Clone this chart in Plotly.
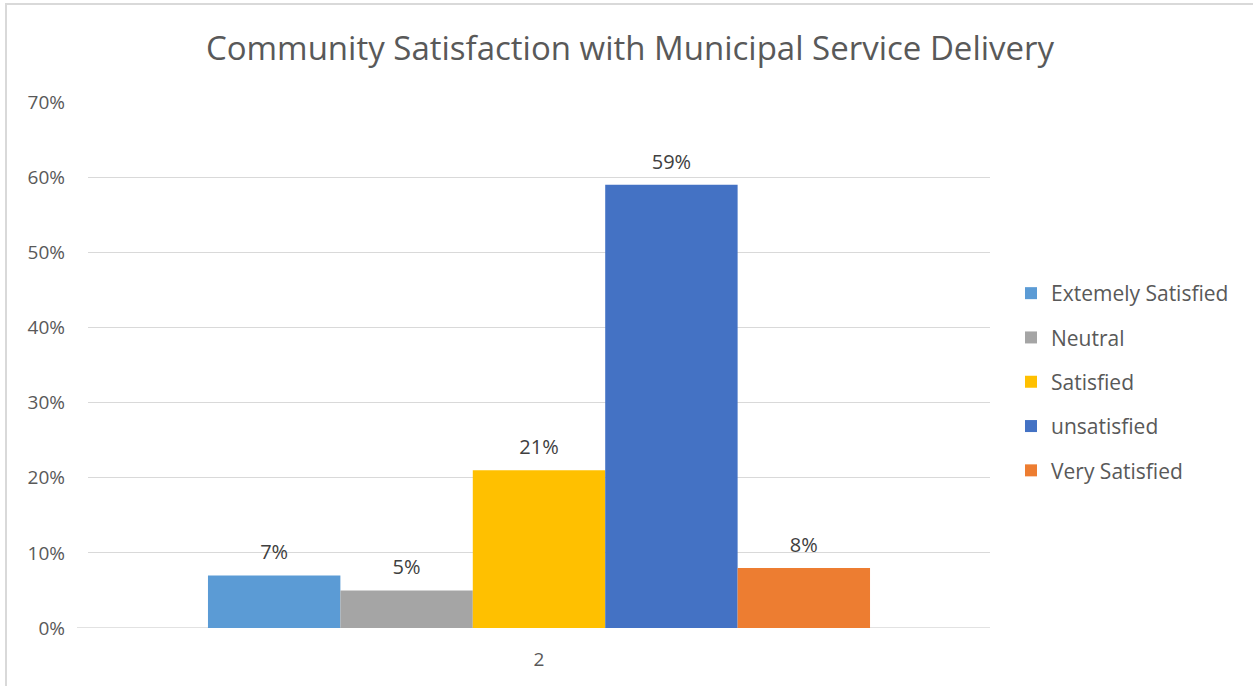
import plotly.graph_objects as go

# Survey results: share of respondents per satisfaction level
category = ["2"]
levels = ["Extemely Satisfied", "Neutral", "Satisfied", "unsatisfied", "Very Satisfied"]
shares = [0.07, 0.05, 0.21, 0.59, 0.08]
colors = ["#5B9BD5", "#A5A5A5", "#FFC000", "#4472C4", "#ED7D31"]
y_ticks = [0, 0.1, 0.2, 0.3, 0.4, 0.5, 0.6, 0.7]
y_tick_text = ["0%", "10%", "20%", "30%", "40%", "50%", "60%", "70%"]

FONT = "Open Sans"
TXT = "#595959"
GRID = "#D9D9D9"
W, H = 1253, 686
ML, MR, MT, MB = 88, 263, 102, 58
PW, PH = W - ML - MR, H - MT - MB
GAP = 0.266

fig = go.Figure()

for i, (name, v, c) in enumerate(zip(levels, shares, colors)):
    fig.add_trace(go.Bar(
        x=category, y=[v], name=name, marker=dict(color=c, line=dict(width=0)),
        legendgroup=name, showlegend=True, hoverinfo="skip",
    ))

# value labels, grouped the same way as the bars
for name, v in zip(levels, shares):
    fig.add_trace(go.Scatter(
        x=category, y=[v], mode="markers+text", text=[f"{v:.0%}"],
        textposition="top center", textfont=dict(family=FONT, size=20, color="#404040"),
        marker=dict(size=16, opacity=0), showlegend=False, hoverinfo="skip",
        legendgroup=name,
    ))

# chart frame and the axis line running under the value axis labels
fig.add_shape(type="rect", xref="paper", yref="paper",
              x0=(6 - ML) / PW, x1=(W + 10 - ML) / PW,
              y0=-(H + 10 - MT - PH) / PH, y1=1 + (MT - 4) / PH,
              line=dict(color=GRID, width=2), layer="below")
fig.add_shape(type="line", xref="paper", yref="y",
              x0=(77 - ML) / PW, x1=1, y0=0, y1=0,
              line=dict(color=GRID, width=1.5), layer="below")

fig.update_layout(
    width=W, height=H,
    margin=dict(l=ML, r=MR, t=MT, b=MB, pad=0),
    paper_bgcolor="white", plot_bgcolor="white",
    barmode="group", bargap=GAP, bargroupgap=0,
    scattermode="group", scattergap=GAP,
    font=dict(family=FONT, color=TXT, size=18),
    title=dict(text="Community Satisfaction with Municipal Service Delivery",
               font=dict(family=FONT, size=33, color=TXT),
               x=630 / W, xref="container", xanchor="center",
               y=1 - 48 / H, yref="container", yanchor="middle"),
    xaxis=dict(showgrid=False, zeroline=False, showline=False, ticks="",
               tickfont=dict(size=19, color=TXT), ticklabelstandoff=18),
    yaxis=dict(range=[0, 0.7], tickvals=y_ticks, ticktext=y_tick_text,
               showgrid=True, gridcolor=GRID, gridwidth=1.3, zeroline=False,
               showline=False, ticks="", tickfont=dict(size=19, color=TXT),
               ticklabelstandoff=22),
    legend=dict(x=(1011 - ML) / PW, xanchor="left", y=(628 - 382) / PH, yanchor="middle",
                traceorder="grouped", tracegroupgap=14,
                font=dict(size=21, color=TXT), bgcolor="rgba(0,0,0,0)",
                itemwidth=30),
    showlegend=True,
)

fig.write_html("out.html")
